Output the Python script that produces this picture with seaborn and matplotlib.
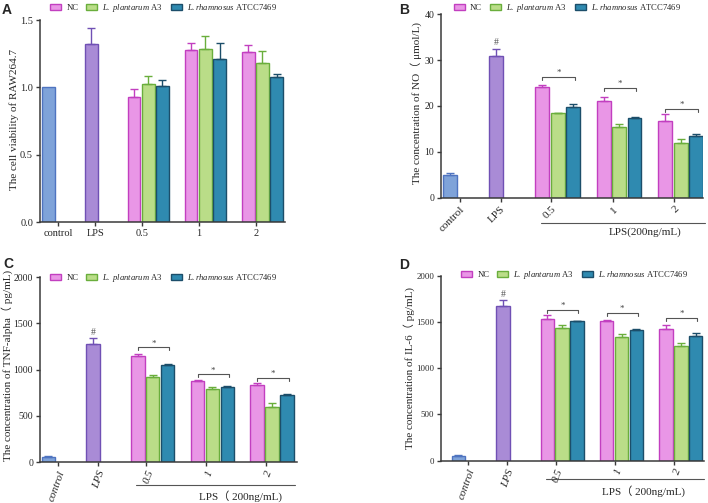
import pandas as pd
import matplotlib
matplotlib.use("Agg")
import matplotlib.pyplot as plt
import matplotlib.transforms as mtransforms
from matplotlib.patches import Patch
import seaborn as sns

# ---- data ----
doses = ["0.5", "1", "2"]
series = ["NC", "A3", "ATCC7469"]
legend_labels = ["NC", r"$\it{L.\ plantarum}$ A3", r"$\it{L.rhamnosus}$ ATCC7469"]
xtick_labels = ["control", "LPS", "0.5", "1", "2"]

# A: cell viability
via_control = [1.00, 0.0]
via_lps = [1.32, 0.12]
via_nc = [0.93, 1.277, 1.263]
via_nc_sd = [0.055, 0.05, 0.05]
via_a3 = [1.023, 1.282, 1.179]
via_a3_sd = [0.065, 0.10, 0.09]
via_rh = [1.011, 1.208, 1.08]
via_rh_sd = [0.045, 0.12, 0.017]

# B: NO
no_control = [4.9, 0.5]
no_lps = [30.9, 1.6]
no_nc = [24.2, 21.0, 16.8]
no_nc_sd = [0.4, 1.0, 1.4]
no_a3 = [18.4, 15.5, 12.0]
no_a3_sd = [0.15, 0.6, 0.9]
no_rh = [19.8, 17.45, 13.45]
no_rh_sd = [0.6, 0.15, 0.45]
no_sig = [26.4, 24.0, 19.3]

# C: TNF-alpha
tnf_control = [55, 12]
tnf_lps = [1271, 68]
tnf_nc = [1141, 877, 834]
tnf_nc_sd = [25, 10, 25]
tnf_a3 = [917, 787, 599]
tnf_a3_sd = [22, 29, 43]
tnf_rh = [1054, 816, 729]
tnf_rh_sd = [4, 7, 11]
tnf_sig = [1238, 946, 913]

# D: IL-6
il6_control = [50, 8]
il6_lps = [1672, 65]
il6_nc = [1528, 1506, 1420]
il6_nc_sd = [43, 11, 50]
il6_a3 = [1434, 1333, 1243]
il6_a3_sd = [29, 33, 33]
il6_rh = [1506, 1416, 1348]
il6_rh_sd = [4, 7, 29]
il6_sig = [1629, 1593, 1542]

# ---- styling ----
kinds = ["control", "LPS"] + series
fill = {"control": "#7fa3d9", "LPS": "#a98bd6", "NC": "#e996e6",
        "A3": "#badd88", "ATCC7469": "#2f8ab0"}
edge = {"control": "#4f74c0", "LPS": "#7050b4", "NC": "#c23fc0",
        "A3": "#6aae3c", "ATCC7469": "#1c4e6a"}

slot_order = ["control", "_b1", "_b2", "LPS", "_b3", "_b4",
              "0.5_NC", "0.5_A3", "0.5_ATCC7469", "_b5",
              "1_NC", "1_A3", "1_ATCC7469", "_b6",
              "2_NC", "2_A3", "2_ATCC7469"]
tick_pos = [0.67, 3.3, 6.57, 10.57, 14.57]

sns.set_style("ticks")
plt.rcParams["font.family"] = ["Liberation Serif", "Noto Sans CJK SC"]
plt.rcParams["mathtext.fontset"] = "custom"
plt.rcParams["mathtext.rm"] = "Liberation Serif"
plt.rcParams["mathtext.it"] = "Liberation Serif:italic"
axis_col = "#3a3a3a"


def build_df(control, lps, groups):
    rows = [("control", control[0], control[1], "control"),
            ("LPS", lps[0], lps[1], "LPS")]
    for s, (m, sd) in zip(series, groups):
        for i, d in enumerate(doses):
            rows.append((f"{d}_{s}", m[i], sd[i], s))
    return pd.DataFrame(rows, columns=["slot", "value", "sd", "kind"])


def draw(ax, df, ymax, yticks, ylabel, xlim, label_xy, sig=None, tick_d=0,
         rotated=0, italic=False, hash_mark=False, group_line=None, group_text="",
         ytick_size=7.5):
    sns.barplot(data=df, x="slot", y="value", hue="kind", order=slot_order,
                hue_order=kinds, palette=fill, saturation=1, dodge=False, width=0.9,
                errorbar=None, legend=False, linewidth=1.0, ax=ax)
    kind_of = dict(zip(df["slot"], df["kind"]))
    for p in ax.patches:
        idx = int(round(p.get_x() + p.get_width() / 2))
        if 0 <= idx < len(slot_order) and slot_order[idx] in kind_of:
            p.set_edgecolor(edge[kind_of[slot_order[idx]]])
    for _, r in df.iterrows():
        if r["sd"] > 0:
            x = slot_order.index(r["slot"])
            ax.errorbar([x], [r["value"]], yerr=[[0], [r["sd"]]], fmt="none",
                        ecolor=edge[r["kind"]], elinewidth=1.0, capsize=3.0,
                        capthick=1.0, zorder=4)
    if hash_mark:
        x = slot_order.index("LPS")
        lps = df[df["slot"] == "LPS"].iloc[0]
        ax.annotate("#", (x, lps["value"] + lps["sd"]), xytext=(0, 1),
                    textcoords="offset points", ha="center", va="bottom",
                    fontsize=7, color="#555555")
    if sig is not None:
        for i, d in enumerate(doses):
            x0 = slot_order.index(f"{d}_NC")
            x1 = slot_order.index(f"{d}_ATCC7469") + 0.1
            h = sig[i]
            ax.plot([x0, x0, x1, x1], [h - tick_d, h, h, h - tick_d],
                    color="#555555", lw=0.8, zorder=5)
            ax.text((x0 + x1) / 2, h, "*", ha="center", va="bottom",
                    fontsize=6.5, color="#444444")

    ax.set_xlim(*xlim)
    ax.set_ylim(0, ymax)
    ax.set_yticks(yticks)
    ax.set_xticks(tick_pos)
    if rotated:
        ax.set_xticklabels(xtick_labels, rotation=rotated, ha="right",
                           rotation_mode="anchor", fontsize=8,
                           fontstyle="italic" if italic else "normal")
    else:
        ax.set_xticklabels(xtick_labels, fontsize=7.5)
    ax.tick_params(axis="y", labelsize=ytick_size)
    ax.tick_params(direction="out", length=3, width=1.0, color=axis_col, pad=2)
    ax.set_xlabel("")
    ax.set_ylabel(ylabel, fontsize=8)
    ax.yaxis.set_label_coords(*label_xy)
    sns.despine(ax=ax)
    for s in ["left", "bottom"]:
        ax.spines[s].set_color(axis_col)
        ax.spines[s].set_linewidth(1.1)

    if group_line is not None:
        trans = mtransforms.blended_transform_factory(ax.transData, ax.transAxes)
        ly, ty, tx = group_line
        ax.plot([5.9, 16.55], [ly, ly], color="#555555", lw=0.8,
                transform=trans, clip_on=False)
        ax.text(tx, ty, group_text, transform=trans, ha="center", va="center",
                fontsize=8)

    handles = [Patch(facecolor=fill[s], edgecolor=edge[s], linewidth=1.0) for s in series]
    return handles


fig = plt.figure(figsize=(7.08, 5.03), dpi=100)
ax_a = fig.add_axes([0.0565, 0.5586, 0.3460, 0.4016])
ax_b = fig.add_axes([0.6233, 0.6070, 0.3696, 0.3646])
ax_c = fig.add_axes([0.0565, 0.0815, 0.3630, 0.3678])
ax_d = fig.add_axes([0.6233, 0.0841, 0.3710, 0.3678])

df_a = build_df(via_control, via_lps, [(via_nc, via_nc_sd), (via_a3, via_a3_sd), (via_rh, via_rh_sd)])
df_b = build_df(no_control, no_lps, [(no_nc, no_nc_sd), (no_a3, no_a3_sd), (no_rh, no_rh_sd)])
df_c = build_df(tnf_control, tnf_lps, [(tnf_nc, tnf_nc_sd), (tnf_a3, tnf_a3_sd), (tnf_rh, tnf_rh_sd)])
df_d = build_df(il6_control, il6_lps, [(il6_nc, il6_nc_sd), (il6_a3, il6_a3_sd), (il6_rh, il6_rh_sd)])

h = draw(ax_a, df_a, 1.5, [0, 0.5, 1.0, 1.5], "The cell viability of RAW264.7",
         (-0.58, 16.58), (-0.085, 0.51))
ax_a.set_yticklabels(["0.0", "0.5", "1.0", "1.5"])

draw(ax_b, df_b, 40, [0, 10, 20, 30, 40], "The concentration of NO（ μmol/L)",
     (-0.56, 16.45), (-0.075, 0.514), sig=no_sig, tick_d=0.65, rotated=45,
     hash_mark=True, group_line=(-0.136, -0.19, 12.7), group_text="LPS(200ng/mL)",
     ytick_size=7)

draw(ax_c, df_c, 2000, [0, 500, 1000, 1500, 2000], "The concentration of TNF-alpha（ pg/mL)",
     (-0.56, 16.67), (-0.105, 0.52), sig=tnf_sig, tick_d=32, rotated=70, italic=True,
     hash_mark=True, group_line=(-0.124, -0.182, 12.9), group_text="LPS（ 200ng/mL)",
     ytick_size=7)

draw(ax_d, df_d, 2000, [0, 500, 1000, 1500, 2000], "The concentration of IL-6（ pg/mL)",
     (-1.15, 16.56), (-0.10, 0.50), sig=il6_sig, tick_d=32, rotated=70, italic=True,
     hash_mark=True, group_line=(-0.099, -0.162, 12.5), group_text="LPS（ 200ng/mL)",
     ytick_size=6.3)

for ax, (lx, ly) in zip([ax_a, ax_b, ax_c, ax_d],
                        [(0.0706, 0.996), (0.641, 0.996), (0.0706, 0.459), (0.651, 0.465)]):
    ax.legend(h, legend_labels, ncol=3, loc="upper left", bbox_to_anchor=(lx, ly),
              bbox_transform=fig.transFigure, frameon=False, fontsize=6.2,
              handlelength=1.3, handleheight=0.8, handletextpad=0.6,
              columnspacing=0.9, borderpad=0, borderaxespad=0)

for letter, (x, y) in zip("ABCD", [(2, 3), (399, 3), (3, 257), (399, 258)]):
    fig.text(x / 708, 1 - y / 503, letter, fontsize=10, fontweight="bold",
             family="Liberation Sans", ha="left", va="top")

fig.savefig("out.png", dpi=100)
